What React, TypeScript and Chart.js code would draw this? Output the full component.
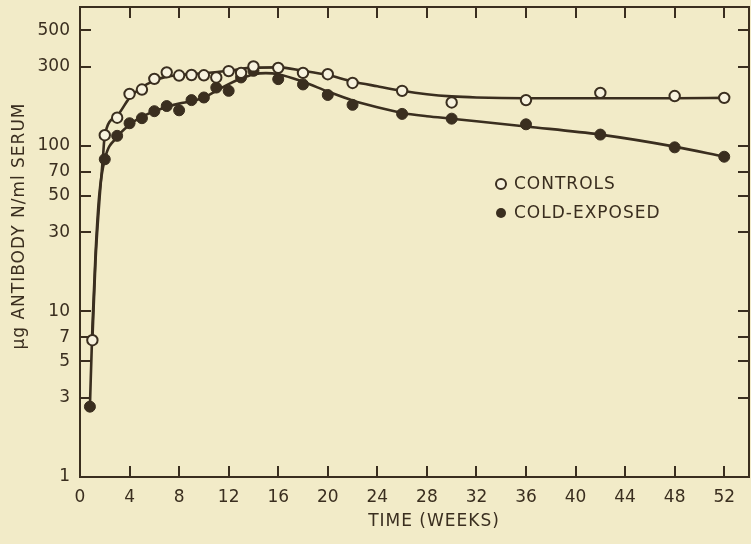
import { useEffect, useRef } from "react";
import { Chart, registerables } from "chart.js";

Chart.register(...registerables);

const INK = "#3a2e1f";
const PAPER = "#f2ebc8";
const OPEN_FILL = "#f7f2de";
const FONT = "'DejaVu Sans', 'Liberation Sans', sans-serif";

// Axis ticks
const xTicks = [0, 4, 8, 12, 16, 20, 24, 28, 32, 36, 40, 44, 48, 52];
const yTicks = [1, 3, 5, 7, 10, 30, 50, 70, 100, 300, 500];
const xMin = 0;
const xMax = 54;
const yMin = 1;
const yMax = 690;

// Observed points: controls (open circles)
const controlsWeeks = [1, 2, 3, 4, 5, 6, 7, 8, 9, 10, 11, 12, 13, 14, 16, 18, 20, 22, 26, 30, 36, 42, 48, 52];
const controlsValues = [6.7, 116, 148, 206, 219, 254, 278, 266, 268, 267, 259, 283, 276, 302, 296, 276, 271, 240, 215, 183, 189, 209, 200, 195];

// Observed points: cold-exposed (filled circles)
const coldWeeks = [0.8, 2, 3, 4, 5, 6, 7, 8, 9, 10, 11, 12, 13, 14, 16, 18, 20, 22, 26, 30, 36, 42, 48, 52];
const coldValues = [2.66, 83, 115, 137, 147, 162, 174, 164, 189, 196, 225, 215, 259, 284, 253, 235, 203, 177, 156, 146, 135, 117, 98, 86];

// Hand-drawn fitted curves
const controlsFitWeeks = [1, 1.25, 1.55, 1.85, 2, 3, 4, 5, 6, 7, 8, 10, 12, 14, 16, 18, 20, 22, 24, 26, 28, 30, 32, 36, 42, 48, 52];
const controlsFitValues = [6.7, 20, 45, 85, 116, 152, 195, 226, 248, 262, 268, 274, 284, 297, 298, 284, 268, 245, 229, 215, 205, 199, 196, 194, 194, 194, 195];

const coldFitWeeks = [0.8, 1.0, 1.25, 1.55, 2, 3, 4, 5, 6, 7, 8, 9, 10, 11, 12, 13, 14, 15, 16, 18, 20, 22, 24, 26, 28, 30, 32, 36, 42, 48, 52];
const coldFitValues = [2.66, 8, 22, 50, 83, 113, 134, 150, 162, 172, 180, 186, 196, 215, 236, 255, 270, 275, 271, 244, 213, 188, 171, 158, 151, 146, 141, 131, 117, 99, 86];

const seriesLabels = ["CONTROLS", "COLD-EXPOSED"];
const xTitle = "TIME (WEEKS)";
const yTitle = "\u00b5g ANTIBODY N/ml SERUM";

const toXY = (xs: number[], ys: number[]) => xs.map((x, i) => ({ x, y: ys[i] }));

const paperPlugin = {
  id: "paper",
  beforeDraw(chart: any) {
    const ctx = chart.ctx;
    ctx.save();
    ctx.fillStyle = PAPER;
    ctx.fillRect(0, 0, chart.width, chart.height);
    ctx.restore();
  },
};

const framePlugin = {
  id: "frame",
  beforeDatasetsDraw(chart: any) {
    const { ctx, chartArea: a, scales } = chart;
    const xs = scales.x;
    const ys = scales.y;
    ctx.save();
    ctx.strokeStyle = INK;
    ctx.lineWidth = 2;
    ctx.strokeRect(a.left, a.top, a.right - a.left, a.bottom - a.top);
    const L = 11;
    ctx.beginPath();
    xTicks.forEach((v) => {
      if (v === xMin) return;
      const px = Math.round(xs.getPixelForValue(v));
      ctx.moveTo(px, a.bottom);
      ctx.lineTo(px, a.bottom - L);
      ctx.moveTo(px, a.top);
      ctx.lineTo(px, a.top + L);
    });
    yTicks.forEach((v) => {
      const py = Math.round(ys.getPixelForValue(v));
      ctx.moveTo(a.left, py);
      ctx.lineTo(a.left + L, py);
      ctx.moveTo(a.right, py);
      ctx.lineTo(a.right - L, py);
    });
    ctx.stroke();
    ctx.restore();
  },
  afterDraw(chart: any) {
    const { ctx } = chart;
    ctx.save();
    ctx.fillStyle = INK;
    ctx.strokeStyle = INK;
    ctx.font = `17px ${FONT}`;
    ctx.textBaseline = "middle";
    try {
      (ctx as any).letterSpacing = "1px";
    } catch (e) {}
    // legend
    const lx = 501;
    const ly = [184, 213];
    seriesLabels.forEach((lab, i) => {
      ctx.beginPath();
      ctx.arc(lx, ly[i], 5, 0, Math.PI * 2);
      if (i === 0) {
        ctx.fillStyle = OPEN_FILL;
        ctx.fill();
        ctx.lineWidth = 2;
        ctx.stroke();
      } else {
        ctx.fillStyle = INK;
        ctx.fill();
      }
      ctx.fillStyle = INK;
      ctx.textAlign = "left";
      ctx.fillText(lab, 514, ly[i] + 1);
    });
    // x title
    ctx.textAlign = "center";
    ctx.fillText(xTitle, 434, 522);
    // y title
    ctx.translate(20, 226);
    ctx.rotate(-Math.PI / 2);
    ctx.fillText(yTitle, 0, 0);
    ctx.restore();
  },
};

export default function App() {
  const ref = useRef<HTMLCanvasElement | null>(null);

  useEffect(() => {
    document.body.style.background = PAPER;
    const canvas = ref.current;
    if (!canvas) return;
    const chart = new Chart(canvas, {
      type: "scatter",
      data: {
        datasets: [
          {
            label: seriesLabels[0],
            data: toXY(controlsWeeks, controlsValues),
            showLine: false,
            pointRadius: 5.2,
            pointBorderWidth: 2,
            pointBackgroundColor: OPEN_FILL,
            pointBorderColor: INK,
          },
          {
            label: seriesLabels[1],
            data: toXY(coldWeeks, coldValues),
            showLine: false,
            pointRadius: 5.5,
            pointBorderWidth: 1,
            pointBackgroundColor: INK,
            pointBorderColor: INK,
          },
          {
            label: "controls fit",
            data: toXY(controlsFitWeeks, controlsFitValues),
            showLine: true,
            borderColor: INK,
            borderWidth: 2.6,
            pointRadius: 0,
            cubicInterpolationMode: "monotone",
            fill: false,
          },
          {
            label: "cold fit",
            data: toXY(coldFitWeeks, coldFitValues),
            showLine: true,
            borderColor: INK,
            borderWidth: 2.6,
            pointRadius: 0,
            cubicInterpolationMode: "monotone",
            fill: false,
          },
        ],
      } as any,
      options: {
        responsive: false,
        animation: false,
        devicePixelRatio: 1,
        layout: { autoPadding: false, padding: { top: 7, right: 2, left: 0, bottom: 0 } },
        plugins: {
          legend: { display: false },
          tooltip: { enabled: false },
          title: { display: false },
        },
        scales: {
          x: {
            type: "linear",
            min: xMin,
            max: xMax,
            grid: { display: false, drawTicks: false },
            border: { display: false },
            afterBuildTicks: (s: any) => {
              s.ticks = xTicks.map((v) => ({ value: v }));
            },
            afterFit: (s: any) => {
              s.height = 67;
              s.paddingLeft = 0;
              s.paddingRight = 0;
            },
            ticks: {
              padding: 10,
              color: INK,
              font: { family: FONT, size: 17 },
              maxRotation: 0,
              autoSkip: false,
              callback: (v: any) => String(v),
            },
          },
          y: {
            type: "logarithmic",
            min: yMin,
            max: yMax,
            grid: { display: false, drawTicks: false },
            border: { display: false },
            afterBuildTicks: (s: any) => {
              s.ticks = yTicks.map((v) => ({ value: v }));
            },
            afterFit: (s: any) => {
              s.width = 80;
              s.paddingTop = 0;
              s.paddingBottom = 0;
            },
            ticks: {
              padding: 10,
              color: INK,
              font: { family: FONT, size: 17 },
              autoSkip: false,
              callback: (v: any) => String(v),
            },
          },
        },
      } as any,
      plugins: [paperPlugin, framePlugin],
    });
    return () => chart.destroy();
  }, []);

  return (
    <div style={{ position: "fixed", left: 0, top: 0, width: 751, height: 544, background: PAPER }}>
      <canvas ref={ref} width={751} height={544} style={{ display: "block" }} />
    </div>
  );
}
